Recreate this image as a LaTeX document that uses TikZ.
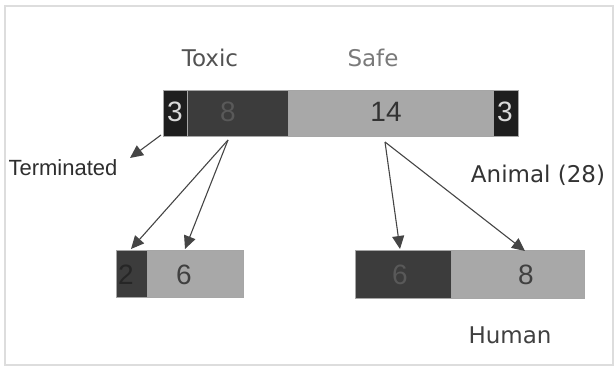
\documentclass[tikz,border=0pt]{standalone}
\usepackage{fontspec}
\setmainfont{Liberation Sans}
\newfontfamily\labfont{DejaVu Sans}
\usetikzlibrary{arrows.meta}
\definecolor{blk}{HTML}{1E1E1E}
\definecolor{drk}{HTML}{3C3C3C}
\definecolor{lgt}{HTML}{A8A8A8}
\definecolor{arr}{HTML}{454545}
\definecolor{frm}{HTML}{DDDDDD}
\tikzset{
  seg/.style={draw=gray!70, line width=0.6pt, inner sep=0pt, outer sep=0pt, minimum height=#1},
  num/.style={font=\fontsize{28}{28}\selectfont, inner sep=0pt},
  lab/.style={font=\labfont\fontsize{23}{23}\selectfont, inner sep=0pt},
  conn/.style={draw=arr, line width=1.1pt, -{Triangle[length=13pt,width=12pt]}},
}
\begin{document}
\begin{tikzpicture}[x=1pt,y=1pt]
\useasboundingbox (0,0) rectangle (616,370);
\draw[frm, line width=1.2pt] (5,5) rectangle (613,364);
% top bar
\node[seg=46pt, fill=blk, minimum width=24pt]  (t1) at (175,257) {};
\node[seg=46pt, fill=drk, minimum width=101pt] (t2) at (237.5,257) {};
\node[seg=46pt, fill=lgt, minimum width=205pt] (t3) at (390.5,257) {};
\node[seg=46pt, fill=blk, minimum width=25pt]  (t4) at (505.5,257) {};
\node[num, text=white!85!black] (n1) at (175,258) {3};
\node[num, text=black!65] (n2) at (228,258) {8};
\node[num, text=black!80] (n3) at (386,258) {14};
\node[num, text=white!85!black] (n4) at (505,258) {3};
% bottom left bar
\node[seg=47pt, fill=drk, minimum width=31pt] (l1) at (131.5,96.5) {};
\node[seg=47pt, fill=lgt, minimum width=96pt] (l2) at (195,96.5) {};
\node[num, text=black!85] (m1) at (126,95) {2};
\node[num, text=black!75] (m2) at (184,95) {6};
% bottom right bar
\node[seg=48pt, fill=drk, minimum width=96pt]  (r1) at (403,96) {};
\node[seg=48pt, fill=lgt, minimum width=133pt] (r2) at (517.5,96) {};
\node[num, text=black!65] (k1) at (400,95) {6};
\node[num, text=black!75] (k2) at (526,95) {8};
% labels
\node[lab, text=black!68] (toxic) at (210,312) {Toxic};
\node[lab, text=black!52] (safe) at (373,312) {Safe};
\node[lab, text=black!80] (animal) at (538,195) {Animal (28)};
\node[lab, text=black!75] (human) at (510,35) {Human};
\node[font=\fontsize{22}{22}\selectfont, text=black!82, inner sep=0pt] (term) at (63,202) {Terminated};
% connector end points
\coordinate (ts) at (161,235);
\coordinate (tt) at (130,212);
\coordinate (xs) at (228,230);
\coordinate (xa) at (131,121);
\coordinate (xb) at (185,121);
\coordinate (ss) at (385,228);
\coordinate (sa) at (400,121);
\coordinate (sb) at (525,119);
\draw[conn] (ts) -- (tt);
\draw[conn] (xs) -- (xa);
\draw[conn] (xs) -- (xb);
\draw[conn] (ss) -- (sa);
\draw[conn] (ss) -- (sb);
\end{tikzpicture}
\end{document}
